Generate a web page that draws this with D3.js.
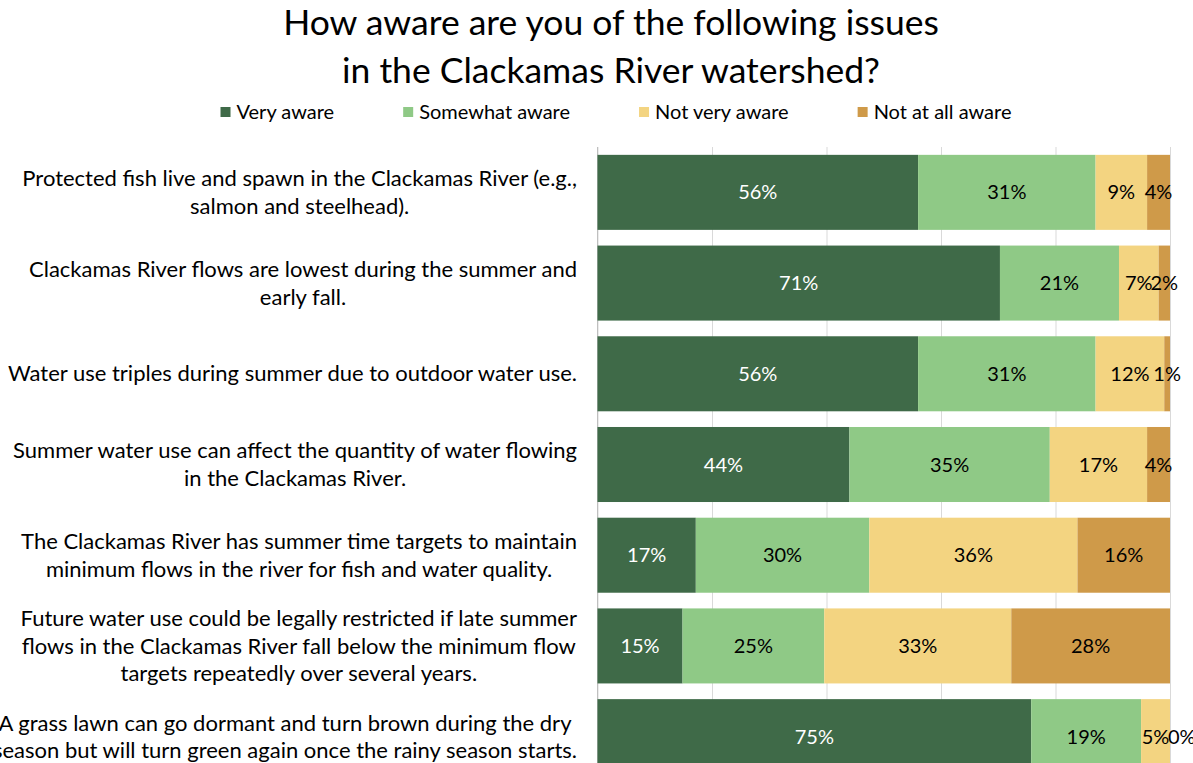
<!DOCTYPE html>
<html>
<head>
<meta charset="utf-8">
<script src="https://cdn.jsdelivr.net/npm/d3@7"></script>
<style>
  html, body { margin: 0; padding: 0; background: #ffffff; }
  svg { display: block; font-family: Lato, "Noto Sans", sans-serif; }
</style>
</head>
<body>
<svg id="chart" width="1193" height="763"></svg>
<script>
// Survey statements (line breaks as they wrap on the category axis)
const categories = [
  "Protected fish live and spawn in the Clackamas River (e.g.,\nsalmon and steelhead).",
  "Clackamas River flows are lowest during the summer and\nearly fall.",
  "Water use triples during summer due to outdoor water use.",
  "Summer water use can affect the quantity of water flowing\nin the Clackamas River.",
  "The Clackamas River has summer time targets to maintain\nminimum flows in the river for fish and water quality.",
  "Future water use could be legally restricted if late summer\nflows in the Clackamas River fall below the minimum flow\ntargets repeatedly over several years.",
  "A grass lawn can go dormant and turn brown during the dry\nseason but will turn green again once the rainy season starts."
];

const seriesNames = ["Very aware", "Somewhat aware", "Not very aware", "Not at all aware"];

// Percent of respondents for each statement
const veryAware      = [56, 71, 56, 44, 17, 15, 75];
const somewhatAware  = [31, 21, 31, 35, 30, 25, 19];
const notVeryAware   = [ 9,  7, 12, 17, 36, 33,  5];
const notAtAllAware  = [ 4,  2,  1,  4, 16, 28,  0];

const axisTicks = [0, 0.2, 0.4, 0.6, 0.8, 1];

const titleLines = ["How aware are you of the following issues", "in the Clackamas River watershed?"];

const colors = ["#3f6a48", "#8fc986", "#f3d481", "#cf9a49"];
const labelColors = ["#ffffff", "#000000", "#000000", "#000000"];

const seriesValues = [veryAware, somewhatAware, notVeryAware, notAtAllAware];
const rows = categories.map((c, i) => {
  const r = { category: c };
  seriesNames.forEach((s, k) => { r[s] = seriesValues[k][i]; });
  return r;
});

const svg = d3.select("#chart");

const plot = { left: 597.5, right: 1170, top: 147, bottom: 782 };

const x = d3.scaleLinear().domain([0, 1]).range([plot.left, plot.right]);
const y = d3.scaleBand()
  .domain(categories)
  .range([plot.top, plot.bottom])
  .paddingInner(0.173)
  .paddingOuter(0.0865);

const stack = d3.stack().keys(seriesNames).offset(d3.stackOffsetExpand);
const stacked = stack(rows);

// Title
svg.append("g").selectAll("text")
  .data(titleLines)
  .join("text")
  .attr("x", 611)
  .attr("y", (d, i) => 34.5 + i * 48.5)
  .attr("text-anchor", "middle")
  .attr("font-size", 35.5)
  .attr("fill", "#000")
  .text(d => d);

// Legend, centred as a row
const legend = svg.append("g");
const legendItems = legend.selectAll("g")
  .data(seriesNames)
  .join("g");
legendItems.append("rect")
  .attr("width", 10).attr("height", 10)
  .attr("y", 107)
  .attr("fill", (d, i) => colors[i]);
legendItems.append("text")
  .attr("x", 16)
  .attr("y", 119)
  .attr("font-size", 20)
  .attr("fill", "#000")
  .text(d => d);
{
  const gap = 69;
  const widths = [];
  legendItems.each(function () {
    widths.push(16 + d3.select(this).select("text").node().getComputedTextLength());
  });
  const total = d3.sum(widths) + gap * (widths.length - 1);
  let cx = 616 - total / 2;
  legendItems.attr("transform", (d, i) => {
    const t = `translate(${cx},0)`;
    cx += widths[i] + gap;
    return t;
  });
}

// Vertical gridlines
svg.append("g")
  .attr("transform", `translate(0,${plot.top})`)
  .call(d3.axisBottom(x).tickValues(axisTicks).tickSize(plot.bottom - plot.top).tickFormat(""))
  .call(g => g.select(".domain").remove())
  .call(g => g.selectAll(".tick line").attr("stroke", "#d9d9d9").attr("stroke-width", 1));

// Category axis line
svg.append("line")
  .attr("x1", plot.left).attr("x2", plot.left)
  .attr("y1", plot.top).attr("y2", plot.bottom)
  .attr("stroke", "#bfbfbf");

// Stacked bars
const layers = svg.append("g").selectAll("g")
  .data(stacked)
  .join("g")
  .attr("fill", (d, i) => colors[i]);

layers.selectAll("rect")
  .data(d => d)
  .join("rect")
  .attr("x", d => x(d[0]))
  .attr("width", d => x(d[1]) - x(d[0]))
  .attr("y", d => y(d.data.category))
  .attr("height", y.bandwidth());

// Data labels; an empty segment's label sits just past the bar end
const labelLayers = svg.append("g").selectAll("g")
  .data(stacked)
  .join("g")
  .attr("fill", (d, i) => labelColors[i]);

labelLayers.selectAll("text")
  .data(d => d.map(p => ({ p, key: d.key })))
  .join("text")
  .attr("x", d => d.p.data[d.key] === 0 ? x(d.p[1]) - 2 : (x(d.p[0]) + x(d.p[1])) / 2)
  .attr("y", d => y(d.p.data.category) + y.bandwidth() / 2)
  .attr("dy", "0.35em")
  .attr("text-anchor", d => d.p.data[d.key] === 0 ? "start" : "middle")
  .attr("font-size", 20)
  .text(d => d.p.data[d.key] + "%");

// Category labels: each block right-aligned to the axis, lines centred
const catG = svg.append("g");
const lineH = 27.5;
categories.forEach(c => {
  const lines = c.split("\n");
  const t = catG.append("text")
    .attr("font-size", 22)
    .attr("fill", "#000")
    .attr("text-anchor", "middle");
  const cy = y(c) + y.bandwidth() / 2;
  const spans = lines.map((ln, j) => t.append("tspan")
    .attr("y", cy + (j - (lines.length - 1) / 2) * lineH)
    .attr("dy", "0.35em")
    .text(ln));
  const maxW = d3.max(spans, s => s.node().getComputedTextLength());
  const cx = 577 - maxW / 2;
  spans.forEach(s => s.attr("x", cx));
});
</script>
</body>
</html>
